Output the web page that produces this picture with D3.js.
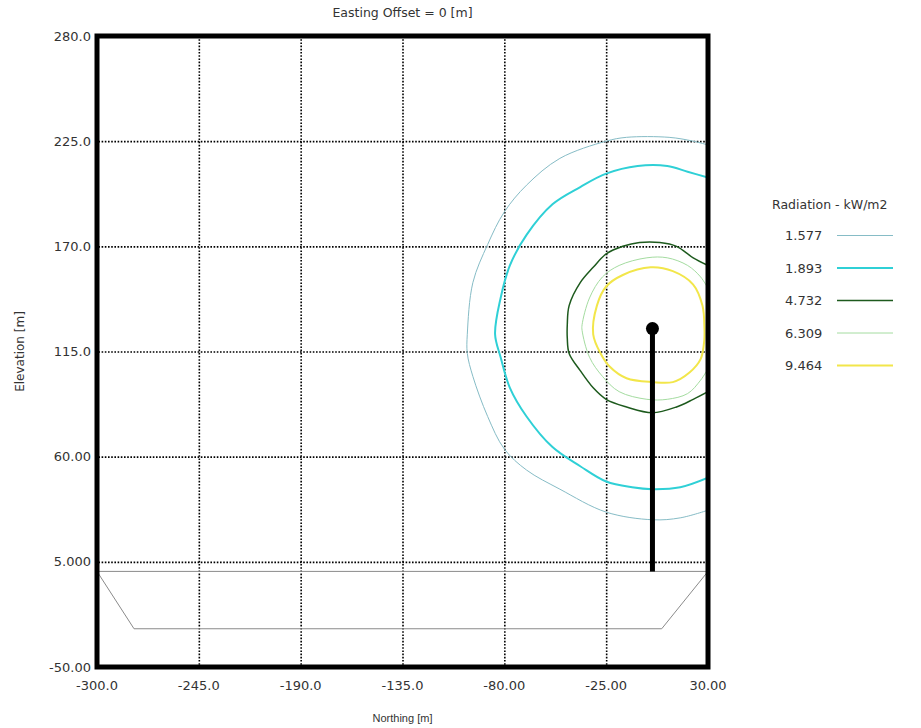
<!DOCTYPE html>
<meta charset="utf-8">

<!-- Load d3.js -->
<script src="https://d3js.org/d3.v7.min.js"></script>
<style>
  body { margin: 0; background: #fff; }
  text { font-family: "DejaVu Sans", Arial, sans-serif; fill: #333; }
</style>
<body>
<div id="my_dataviz"></div>

<script>
// axis ticks
var xTicks = [-300, -245, -190, -135, -80, -25, 30];
var yTicks = [-50, 5, 60, 115, 170, 225, 280];
var xTickLabels = ["-300.0", "-245.0", "-190.0", "-135.0", "-80.00", "-25.00", "30.00"];
var yTickLabels = ["-50.00", "5.000", "60.00", "115.0", "170.0", "225.0", "280.0"];

// radiation levels (kW/m2) and the contour for each, [northing, elevation]
var levels = ["1.577", "1.893", "4.732", "6.309", "9.464"];
var c1577 = [[30,223],[22,225],[9,227],[-14,227],[-25,225],[-50,216],[-68,202],[-80,188],[-89,171],[-97,151],
             [-100,124],[-100,114],[-97,102],[-89,81],[-80,64],[-68,53],[-50,43],[-25,31],[0,27],[15,28],[30,32]];
var c1893 = [[30,206],[19,209],[8,212],[-8,212],[-25,208],[-39,201],[-54,192],[-68,176],[-77,160],[-82,143],
             [-85,124],[-82,112],[-77,96],[-68,81],[-54,65],[-39,55],[-25,47],[-11,44],[0,43],[15,44],[30,49]];
var c4732 = [[30,160],[22,164],[13,170],[4,172],[-7,172],[-16,170],[-25,166],[-32,159],[-39,151],[-45,139],
             [-46,129],[-46,122],[-45,114],[-39,105],[-32,96],[-25,90],[-14,86],[0,83],[13,86],[22,90],[30,94]];
var c6309 = [[30,148],[26,154],[19,160],[8,164],[-3,164],[-18,160],[-27,154],[-34,143],[-38,129],
             [-38,126],[-34,112],[-27,102],[-18,94],[-3,90],[8,90],[19,93],[26,100],[30,106]];
var c9464 = [[28,129],[27,139],[22,150],[11,157],[-1,159],[-16,155],[-25,149],[-30,139],[-32,124],
             [-28,114],[-23,107],[-14,101],[0,99],[11,99],[20,104],[26,111],[28,121],[28,129]];
var contours = [c1577, c1893, c4732, c6309, c9464];

// ground profile and the stack
var ground = [[-300,0],[-280,-30],[5,-30],[30,0],[-300,0]];
var stack = [[0,0],[0,127]];

// line styles per level
var lineColor = ["#86bcc6", "#2fd0d6", "#1d5a1d", "#a4dca0", "#f2e64a"];
var lineWidth = [1, 2, 1.5, 1, 2];

var margin = {top: 36, right: 213, bottom: 61, left: 97},
    width = 921 - margin.left - margin.right,
    height = 728 - margin.top - margin.bottom;

var svgRoot = d3.select("#my_dataviz")
  .append("svg")
    .attr("width", 921)
    .attr("height", 728);

var svg = svgRoot.append("g")
    .attr("transform", "translate(" + margin.left + "," + margin.top + ")");

var x = d3.scaleLinear().domain([-300, 30]).range([0, width]);
var y = d3.scaleLinear().domain([-50, 280]).range([height, 0]);

svg.append("clipPath").attr("id", "plotclip")
  .append("rect").attr("width", width).attr("height", height);

// dotted grid
svg.append("g")
  .call(d3.axisBottom(x).tickValues(xTicks.slice(1, -1)).tickSize(height).tickFormat(""))
  .call(function(g) { g.select(".domain").remove(); })
  .selectAll("line")
    .attr("stroke", "#000")
    .attr("stroke-width", 1.6)
    .attr("stroke-dasharray", "1.6,1.6");

svg.append("g")
  .attr("transform", "translate(" + width + ",0)")
  .call(d3.axisLeft(y).tickValues(yTicks.slice(1, -1)).tickSize(width).tickFormat(""))
  .call(function(g) { g.select(".domain").remove(); })
  .selectAll("line")
    .attr("stroke", "#000")
    .attr("stroke-width", 1.6)
    .attr("stroke-dasharray", "1.6,1.6");

var line = d3.line()
  .x(function(d) { return x(d[0]); })
  .y(function(d) { return y(d[1]); })
  .curve(d3.curveCatmullRom);

var plot = svg.append("g").attr("clip-path", "url(#plotclip)");

// ground
plot.append("path")
  .datum(ground)
  .attr("fill", "none")
  .attr("stroke", "#8a8a8a")
  .attr("stroke-width", 1)
  .attr("d", d3.line().x(function(d) { return x(d[0]); }).y(function(d) { return y(d[1]); }));

// radiation contours
plot.selectAll(".contour")
  .data(contours)
  .enter().append("path")
    .attr("class", "contour")
    .attr("fill", "none")
    .attr("stroke", function(d, i) { return lineColor[i]; })
    .attr("stroke-width", function(d, i) { return lineWidth[i]; })
    .attr("d", line);

// stack and flame point
plot.append("path")
  .datum(stack)
  .attr("stroke", "#000")
  .attr("stroke-width", 5)
  .attr("d", d3.line().x(function(d) { return x(d[0]); }).y(function(d) { return y(d[1]); }));

plot.append("circle")
  .attr("cx", x(stack[1][0]))
  .attr("cy", y(stack[1][1]))
  .attr("r", 6.5)
  .attr("fill", "#000");

// heavy frame
svg.append("rect")
  .attr("x", 0).attr("y", 0)
  .attr("width", width).attr("height", height)
  .attr("fill", "none")
  .attr("stroke", "#000")
  .attr("stroke-width", 5);

// tick labels
svg.selectAll(".xlab")
  .data(xTicks)
  .enter().append("text")
    .attr("x", function(d) { return x(d); })
    .attr("y", height + 23)
    .attr("text-anchor", "middle")
    .style("font-size", "13px")
    .text(function(d, i) { return xTickLabels[i]; });

svg.selectAll(".ylab")
  .data(yTicks)
  .enter().append("text")
    .attr("x", -6)
    .attr("y", function(d) { return y(d) + 4.5; })
    .attr("text-anchor", "end")
    .style("font-size", "13px")
    .text(function(d, i) { return yTickLabels[i]; });

// titles
svg.append("text")
  .attr("x", width / 2)
  .attr("y", -19)
  .attr("text-anchor", "middle")
  .style("font-size", "12.5px")
  .text("Easting Offset = 0 [m]");

svg.append("text")
  .attr("x", width / 2)
  .attr("y", height + 55)
  .attr("text-anchor", "middle")
  .style("font-family", "Liberation Sans")
  .style("font-size", "11px")
  .text("Northing [m]");

svg.append("text")
  .attr("transform", "translate(-73," + (height / 2) + ") rotate(-90)")
  .attr("text-anchor", "middle")
  .style("font-size", "12px")
  .text("Elevation [m]");

// legend
var legend = svgRoot.append("g").attr("transform", "translate(772,209)");
legend.append("text")
  .attr("x", 0).attr("y", 0)
  .style("font-size", "12.5px")
  .text("Radiation - kW/m2");

var item = legend.selectAll(".item")
  .data(levels)
  .enter().append("g")
    .attr("transform", function(d, i) { return "translate(0," + (31 + i * 32.5) + ")"; });

item.append("text")
  .attr("x", 13).attr("y", 0)
  .style("font-size", "13px")
  .text(function(d) { return d; });

item.append("line")
  .attr("x1", 65).attr("x2", 121)
  .attr("y1", -4.5).attr("y2", -4.5)
  .attr("stroke", function(d, i) { return lineColor[i]; })
  .attr("stroke-width", function(d, i) { return lineWidth[i]; });
</script>
</body>
</html>
